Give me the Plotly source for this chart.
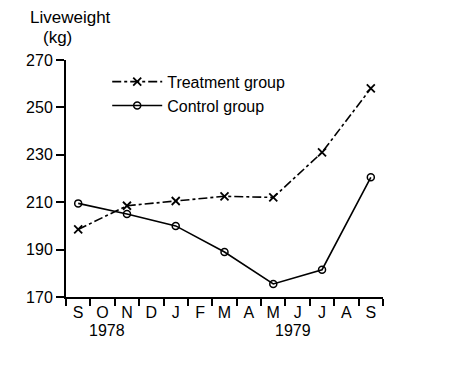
import plotly.graph_objects as go

months = ["S", "O", "N", "D", "J", "F", "M", "A", "M", "J", "J", "A", "S"]
month_idx = list(range(len(months)))

treat_x = [0, 2, 4, 6, 8, 10, 12]
treat_y = [198.5, 208.5, 210.5, 212.5, 212, 231, 258]

ctrl_x = [0, 2, 4, 6, 8, 10, 12]
ctrl_y = [209.5, 205, 200, 189, 175.5, 181.5, 220.5]

y_ticks = [170, 190, 210, 230, 250, 270]
years = [("1978", 1.2), ("1979", 8.8)]

FONT = "Liberation Sans"

fig = go.Figure()
fig.add_trace(go.Scatter(
    x=treat_x, y=treat_y, mode="lines+markers", name="Treatment group",
    line=dict(color="black", width=1.6, dash="dashdot"),
    marker=dict(symbol="x-thin", size=8, line=dict(color="black", width=1.8)),
))
fig.add_trace(go.Scatter(
    x=ctrl_x, y=ctrl_y, mode="lines+markers", name="Control group",
    line=dict(color="black", width=1.6),
    marker=dict(symbol="circle-open", size=7, color="black", line=dict(width=1.5)),
))

for label, xpos in years:
    fig.add_annotation(x=xpos, y=-0.14, xref="x", yref="paper", text=label,
                       showarrow=False, font=dict(family=FONT, size=16, color="black"),
                       xanchor="center", yanchor="middle")

fig.add_annotation(x=-0.12, y=1.181, xref="paper", yref="paper", text="Liveweight",
                   showarrow=False, font=dict(family=FONT, size=17, color="black"),
                   xanchor="left", yanchor="middle")
fig.add_annotation(x=-0.079, y=1.097, xref="paper", yref="paper", text="(kg)",
                   showarrow=False, font=dict(family=FONT, size=17, color="black"),
                   xanchor="left", yanchor="middle")

fig.update_xaxes(
    range=[-0.5, 12.5], tickmode="array", tickvals=month_idx, ticktext=months,
    ticks="", showgrid=False, zeroline=False,
    showline=True, linecolor="black", linewidth=2,
    tickfont=dict(family=FONT, size=16, color="black"),
    minor=dict(tickmode="array", tickvals=[i - 0.5 for i in range(len(months) + 1)],
               ticks="outside", ticklen=7, tickwidth=2, tickcolor="black", showgrid=False),
)
fig.update_yaxes(
    range=[170, 270], tickmode="array", tickvals=y_ticks,
    ticks="outside", ticklen=8, tickwidth=2, tickcolor="black",
    showgrid=False, zeroline=False,
    showline=True, linecolor="black", linewidth=2,
    tickfont=dict(family=FONT, size=16, color="black"),
)

# the page body has an 8px margin, so the figure is 8px smaller and margins shifted
fig.update_layout(
    width=442, height=364,
    margin=dict(l=58, r=67, t=52, b=75),
    plot_bgcolor="white", paper_bgcolor="white",
    showlegend=True,
    legend=dict(x=0.13, y=0.98, xanchor="left", yanchor="top",
                bgcolor="rgba(0,0,0,0)", font=dict(family=FONT, size=16, color="black"),
                tracegroupgap=0, itemwidth=50),
)

fig.write_html("out.html")
